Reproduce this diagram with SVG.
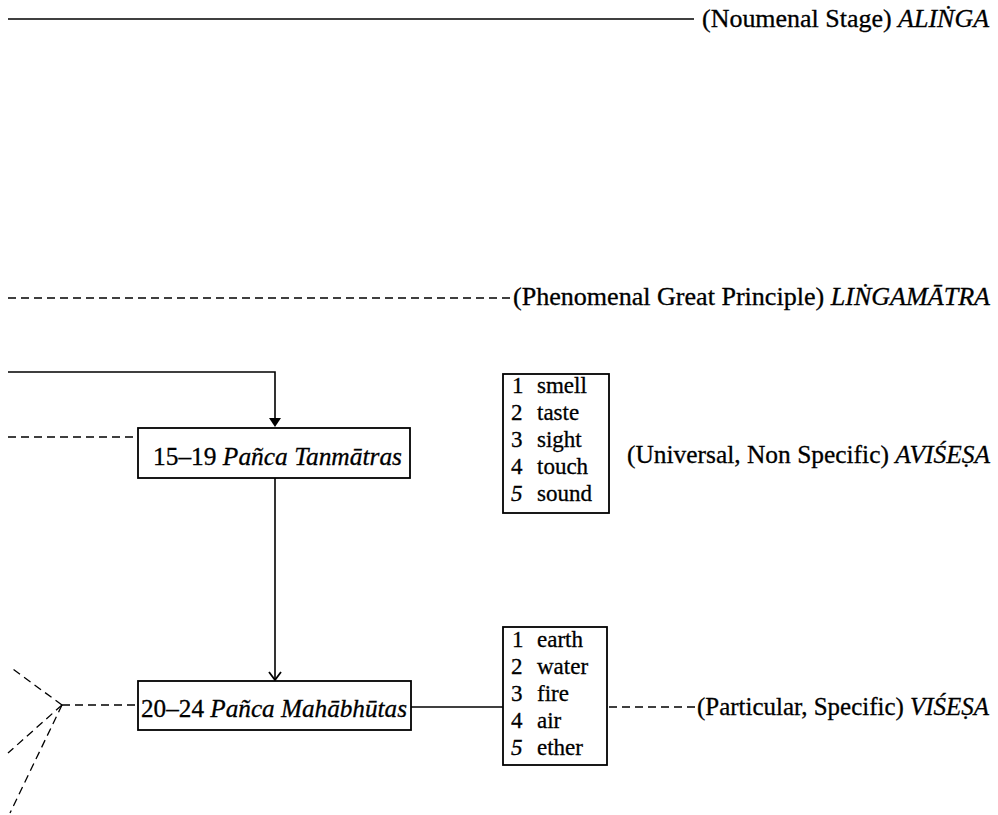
<svg xmlns="http://www.w3.org/2000/svg" width="998" height="815" viewBox="0 0 998 815">
<defs>
<style>
.t{font-family:"Liberation Serif","Times New Roman","DejaVu Serif",serif;fill:#000;stroke:#000;stroke-width:0.3}
.lbl{font-size:25px}
.lst{font-size:23px}
.i{font-style:italic}
.box{fill:#fff;stroke:#000;stroke-width:1.8}
.solid{fill:none;stroke:#000;stroke-width:1.6}
.dash{fill:none;stroke:#000;stroke-width:1.3;stroke-dasharray:8 5}
</style>
</defs>
<rect width="998" height="815" fill="#fff"/>

<g id="connectors">
<line class="solid" x1="8" y1="19" x2="694" y2="19" stroke-width="2.4"/>
<line class="dash" x1="8" y1="298" x2="510" y2="298"/>
<polyline class="solid" points="8,372 275,372 275,418" stroke-width="2"/>
<path d="M269,418 L281,418 L275,427 Z" fill="#000"/>
<line class="dash" x1="8" y1="437" x2="137" y2="437"/>
<line class="solid" x1="275" y1="478" x2="275" y2="680"/>
<path d="M269,672 L275,680 L281,672" fill="none" stroke="#000" stroke-width="1.8"/>
<line class="dash" x1="62" y1="705" x2="137" y2="705"/>
<line class="dash" x1="62" y1="705" x2="10" y2="667"/>
<line class="dash" x1="62" y1="705" x2="8" y2="753"/>
<line class="dash" x1="62" y1="705" x2="10" y2="813"/>
<line class="solid" x1="411" y1="707" x2="503" y2="707" stroke-width="1.2"/>
<line class="dash" x1="609" y1="707" x2="697" y2="707" stroke-dasharray="6 4"/>
</g>

<g id="label-alinga">
<text class="t lbl" x="702" y="27" textLength="287" lengthAdjust="spacingAndGlyphs">(Noumenal Stage) <tspan class="i">ALIṄGA</tspan></text>
</g>
<g id="label-lingamatra">
<text class="t lbl" x="513" y="305" textLength="477" lengthAdjust="spacingAndGlyphs">(Phenomenal Great Principle) <tspan class="i">LIṄGAMĀTRA</tspan></text>
</g>

<g id="tanmatras">
<rect class="box" x="138" y="428" width="272" height="50"/>
<text class="t lbl" x="153" y="465" textLength="249" lengthAdjust="spacingAndGlyphs">15–19 <tspan class="i">Pañca Tanmātras</tspan></text>
</g>

<g id="mahabhutas">
<rect class="box" x="138" y="681" width="273" height="49"/>
<text class="t lbl" x="141" y="717" textLength="266" lengthAdjust="spacingAndGlyphs">20–24 <tspan class="i">Pañca Mahābhūtas</tspan></text>
</g>

<g id="list-tanmatras">
<rect class="box" x="503" y="374" width="106" height="139"/>
<text class="t lst" x="512" y="393">1</text><text class="t lst" x="537" y="393">smell</text>
<text class="t lst" x="511" y="420">2</text><text class="t lst" x="537" y="420">taste</text>
<text class="t lst" x="511" y="447">3</text><text class="t lst" x="537" y="447">sight</text>
<text class="t lst" x="511" y="474">4</text><text class="t lst" x="537" y="474">touch</text>
<text class="t lst i" x="511" y="501">5</text><text class="t lst" x="537" y="501">sound</text>
</g>

<g id="label-avisesa">
<text class="t lbl" x="627" y="463" textLength="363" lengthAdjust="spacingAndGlyphs">(Universal, Non Specific) <tspan class="i">AVIŚEṢA</tspan></text>
</g>

<g id="list-mahabhutas">
<rect class="box" x="503" y="627" width="104" height="138"/>
<text class="t lst" x="512" y="647">1</text><text class="t lst" x="537" y="647">earth</text>
<text class="t lst" x="511" y="674">2</text><text class="t lst" x="537" y="674">water</text>
<text class="t lst" x="511" y="701">3</text><text class="t lst" x="537" y="701">fire</text>
<text class="t lst" x="511" y="728">4</text><text class="t lst" x="537" y="728">air</text>
<text class="t lst i" x="511" y="755">5</text><text class="t lst" x="537" y="755">ether</text>
</g>

<g id="label-visesa">
<text class="t lbl" x="697" y="715" textLength="292" lengthAdjust="spacingAndGlyphs">(Particular, Specific) <tspan class="i">VIŚEṢA</tspan></text>
</g>
</svg>
